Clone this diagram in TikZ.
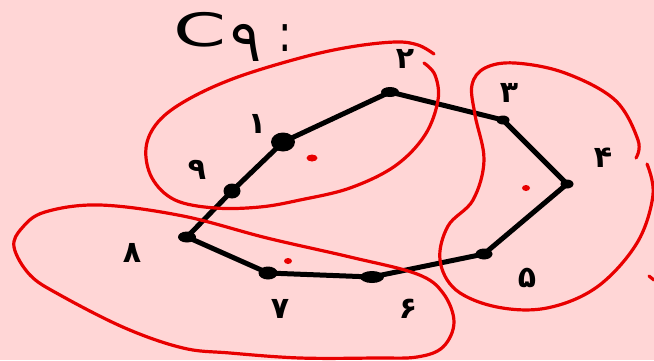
\documentclass[tikz,border=0pt]{standalone}
\usepackage{fontspec}
\newfontfamily\pfont[Script=Arabic]{DejaVu Sans}
\usetikzlibrary{shapes.geometric}
\definecolor{bg}{RGB}{255,214,214}
\definecolor{pen}{RGB}{232,0,0}
\begin{document}
\begin{tikzpicture}[x=1pt,y=-1pt,
 vtx/.style={ellipse,fill=black,inner sep=0pt,minimum width=14pt,minimum height=9pt},
 edge/.style={line width=5pt,line cap=round,line join=round},
 ring/.style={draw=pen,line width=3.2pt,line cap=round,line join=round},
 lbl/.style={font=\pfont\bfseries\fontsize{30}{30}\selectfont,inner sep=0pt},
 ttl/.style={font=\pfont\fontsize{40}{40}\selectfont,inner sep=0pt},
 rdot/.style={ellipse,fill=pen,inner sep=0pt,minimum width=11pt,minimum height=7pt}]
\fill[bg] (0,0) rectangle (654,360);
\useasboundingbox (0,0) rectangle (654,360);
% title
\node[ttl] (tc) at (200,30) {\scalebox{1.9}[1.15]{C}};
\node[ttl] (t9) at (246,43) {\scalebox{1.45}{۹}};
\node[ttl] (tcol) at (285,38) {\scalebox{1}[1.3]{:}};
% vertices
\node[vtx,minimum width=24pt,minimum height=19pt] (v1) at (283,142) {};
\node[vtx,minimum width=18pt,minimum height=10pt] (v2) at (390,92) {};
\node[vtx,minimum width=13pt,minimum height=9pt] (v3) at (503,120) {};
\node[vtx,minimum width=13pt,minimum height=9pt] (v4) at (567,184) {};
\node[vtx,minimum width=17pt,minimum height=11pt] (v5) at (484,254) {};
\node[vtx,minimum width=24pt,minimum height=12pt] (v6) at (372,277) {};
\node[vtx,minimum width=19pt,minimum height=13pt] (v7) at (268,273) {};
\node[vtx,minimum width=18pt,minimum height=11pt] (v8) at (187,237) {};
\node[vtx,minimum width=17pt,minimum height=15pt] (v9) at (232,191) {};
\draw[edge] (v1.center) -- (v2.center) -- (v3.center) -- (v4.center) -- (v5.center)
  -- (v6.center) -- (v7.center) -- (v8.center) -- (v9.center) -- (v1.center);
% labels
\node[lbl] (l1) at (257,124) {۱};
\node[lbl] (l2) at (405,59) {۲};
\node[lbl] (l3) at (509,93) {۳};
\node[lbl] (l4) at (603,158) {۴};
\node[lbl] (l5) at (527,278) {۵};
\node[lbl] (l6) at (408,309) {۶};
\node[lbl] (l7) at (280,309) {۷};
\node[lbl] (l8) at (132,253) {۸};
\node[lbl] (l9) at (197,170) {۹};
% red dots
\node[rdot] (d1) at (312,158) {};
\node[rdot,minimum width=8pt,minimum height=6pt] (d2) at (526,188) {};
\node[rdot,minimum width=8pt,minimum height=6pt] (d3) at (288,261) {};
% red rings
\draw[ring] plot[smooth,tension=0.6] coordinates {(434,54) (418,45) (395,42) (350,47) (300,58) (235,78) (187,100) (158,122) (146,148) (152,178) (175,200) (215,208) (260,207) (300,200) (350,188) (395,166) (425,135) (438,100) (435,75) (424,63)};
\draw[ring] plot[smooth cycle,tension=0.6] coordinates {(14,247) (22,228) (45,212) (100,205) (183,216) (267,238) (350,257) (417,274) (443,293) (454,322) (443,347) (417,357) (375,358) (300,358) (230,353) (183,348) (125,328) (60,295) (30,275)};
\draw[ring] plot[smooth,tension=0.6] coordinates {(636,158) (638,140) (615,100) (565,73) (515,63) (485,68) (472,85) (475,115) (484,160) (473,200) (448,226) (440,260) (456,290) (497,307) (547,308) (597,287) (637,243) (653,195) (647,164)};
\draw[ring] (649,276) -- (654,280);
\end{tikzpicture}
\end{document}
